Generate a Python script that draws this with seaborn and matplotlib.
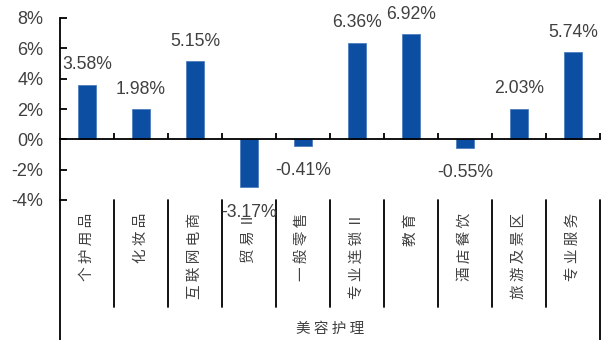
import matplotlib
matplotlib.use("Agg")
import matplotlib.pyplot as plt
import seaborn as sns
import pandas as pd
from matplotlib.lines import Line2D
from matplotlib.transforms import blended_transform_factory

# Sub-industry returns (%)
categories = ["个护用品", "化妆品", "互联网电商", "贸易Ⅱ", "一般零售",
              "专业连锁Ⅱ", "教育", "酒店餐饮", "旅游及景区", "专业服务"]
values = [3.58, 1.98, 5.15, -3.17, -0.41, 6.36, 6.92, -0.55, 2.03, 5.74]
group_label = "美容护理"
y_ticks = [-4, -2, 0, 2, 4, 6, 8]

BAR_COLOR = "#0B4EA2"
TEXT_COLOR = "#404040"
CJK = ["Noto Sans CJK SC", "DejaVu Sans"]

sns.set_theme(style="white")
plt.rcParams["font.family"] = ["Liberation Sans", "Noto Sans CJK SC", "DejaVu Sans"]

W, H = 601, 340
fig = plt.figure(figsize=(W / 100, H / 100), dpi=100)
ax_top, ax_bot = 18, 200
ax = fig.add_axes([60 / W, 1 - ax_bot / H, 540 / W, (ax_bot - ax_top) / H])

df = pd.DataFrame({"cat": categories, "val": values})
sns.barplot(data=df, x="cat", y="val", color=BAR_COLOR, width=0.33,
            saturation=1, ax=ax, edgecolor="#4F7FC0", linewidth=0.6)

n = len(categories)
ax.set_xlim(-0.5, n - 0.5)
ax.set_ylim(min(y_ticks), max(y_ticks))
ax.set_xlabel("")
ax.set_ylabel("")

# spines
for s in ("top", "right"):
    ax.spines[s].set_visible(False)
ax.spines["bottom"].set_position(("data", 0))
for s in ("left", "bottom"):
    ax.spines[s].set_color("black")
    ax.spines[s].set_linewidth(1.3)

ax.set_yticks(y_ticks)
ax.set_yticklabels([f"{t}%" for t in y_ticks], color=TEXT_COLOR, fontsize=13)
ax.tick_params(axis="y", direction="in", length=5, width=1.3, pad=12, colors="black",
               labelcolor=TEXT_COLOR, left=True)
ax.set_xticks([i + 0.5 for i in range(n)])
ax.set_xticklabels([])
ax.tick_params(axis="x", direction="in", length=4, width=1.3, colors="black", bottom=True)

# value labels
for i, v in enumerate(values):
    off = 14.5 if v >= 0 else -18
    ax.annotate(f"{v:.2f}%", xy=(i, v), xytext=(0, off), textcoords="offset points",
                ha="center", va="center", fontsize=12.7, color=TEXT_COLOR)

# category table below the plot
h = ax_bot - ax_top
def yfrac(py):
    return (ax_bot - py) / h

tr = blended_transform_factory(ax.transData, ax.transAxes)
for i, lab in enumerate(categories):
    ax.text(i, yfrac(213), " ".join(lab), transform=tr, rotation=90,
            ha="center", va="top", fontsize=10.5, color=TEXT_COLOR, family=CJK)

lw = 1.3
for i in range(n - 1):
    ax.add_line(Line2D([i + 0.5, i + 0.5], [yfrac(200), yfrac(307)], transform=tr,
                       color="black", lw=lw, clip_on=False))
for xb in (-0.5, n - 0.5):
    ax.add_line(Line2D([xb, xb], [yfrac(200), yfrac(341)], transform=tr,
                       color="black", lw=lw, clip_on=False))

ax.text((n - 1) / 2, yfrac(329), " ".join(group_label), transform=tr,
        ha="center", va="center", fontsize=10.5, color=TEXT_COLOR, family=CJK)

fig.savefig("out.png", dpi=100)
